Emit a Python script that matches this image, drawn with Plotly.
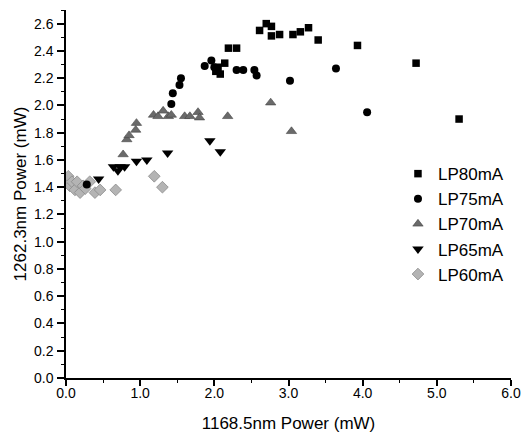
import plotly.graph_objects as go

# LP80mA (squares)
lp80_x = [2.02, 2.05, 2.08, 2.14, 2.19, 2.30, 2.61, 2.70, 2.77, 2.77, 2.88, 3.06, 3.16, 3.27, 3.40, 3.93, 4.72, 5.30]
lp80_y = [2.25, 2.28, 2.23, 2.31, 2.42, 2.42, 2.55, 2.60, 2.58, 2.51, 2.52, 2.52, 2.54, 2.57, 2.48, 2.44, 2.31, 1.90]
# LP75mA (circles)
lp75_x = [0.28, 1.42, 1.44, 1.53, 1.55, 1.87, 1.96, 2.00, 2.30, 2.39, 2.54, 2.57, 3.02, 3.64, 4.06]
lp75_y = [1.42, 2.01, 2.09, 2.15, 2.20, 2.29, 2.33, 2.28, 2.26, 2.26, 2.26, 2.22, 2.18, 2.27, 1.95]
# LP70mA (up triangles)
lp70_x = [0.77, 0.82, 0.85, 0.94, 0.95, 1.18, 1.24, 1.31, 1.38, 1.42, 1.60, 1.67, 1.78, 1.80, 2.18, 2.76, 3.04]
lp70_y = [1.64, 1.75, 1.78, 1.82, 1.87, 1.93, 1.92, 1.96, 1.92, 1.93, 1.92, 1.92, 1.95, 1.91, 1.92, 2.02, 1.81]
# LP65mA (down triangles)
lp65_x = [0.44, 0.64, 0.70, 0.73, 0.79, 0.95, 1.09, 1.37, 1.94, 2.08]
lp65_y = [1.46, 1.55, 1.52, 1.55, 1.55, 1.59, 1.60, 1.65, 1.74, 1.66]
# LP60mA (diamonds)
lp60_x = [0.03, 0.05, 0.08, 0.12, 0.15, 0.19, 0.23, 0.26, 0.32, 0.39, 0.46, 0.67, 1.19, 1.30]
lp60_y = [1.48, 1.41, 1.44, 1.38, 1.44, 1.36, 1.41, 1.39, 1.44, 1.36, 1.38, 1.38, 1.48, 1.40]

x_ticks = [0, 1, 2, 3, 4, 5, 6]
x_labels = ["0.0", "1.0", "2.0", "3.0", "4.0", "5.0", "6.0"]
y_ticks = [0, 0.2, 0.4, 0.6, 0.8, 1.0, 1.2, 1.4, 1.6, 1.8, 2.0, 2.2, 2.4, 2.6]
y_labels = ["0.0", "0.2", "0.4", "0.6", "0.8", "1.0", "1.2", "1.4", "1.6", "1.8", "2.0", "2.2", "2.4", "2.6"]

FONT = "Liberation Sans, Arial, sans-serif"

fig = go.Figure()
fig.add_trace(go.Scatter(x=lp60_x, y=lp60_y, mode="markers", name="LP60mA", legendrank=5,
                         marker=dict(symbol="diamond", size=9, color="#b4b4b4",
                                     line=dict(color="#8a8a8a", width=0.8))))
fig.add_trace(go.Scatter(x=lp70_x, y=lp70_y, mode="markers", name="LP70mA", legendrank=3,
                         marker=dict(symbol="triangle-up", size=9, color="#6a6a6a",
                                     line=dict(color="#444444", width=0.6))))
fig.add_trace(go.Scatter(x=lp65_x, y=lp65_y, mode="markers", name="LP65mA", legendrank=4,
                         marker=dict(symbol="triangle-down", size=10, color="black")))
fig.add_trace(go.Scatter(x=lp75_x, y=lp75_y, mode="markers", name="LP75mA", legendrank=2,
                         marker=dict(symbol="circle", size=8, color="black")))
fig.add_trace(go.Scatter(x=lp80_x, y=lp80_y, mode="markers", name="LP80mA", legendrank=1,
                         marker=dict(symbol="square", size=7.5, color="black")))

fig.update_layout(
    width=521, height=433,
    margin=dict(l=66, r=10, t=10, b=55),
    paper_bgcolor="white", plot_bgcolor="white",
    font=dict(family=FONT, color="black", size=14),
    showlegend=True,
    legend=dict(x=0.746, y=0.603, xanchor="left", yanchor="top",
                font=dict(size=17, family=FONT),
                bgcolor="rgba(0,0,0,0)", itemwidth=30, tracegroupgap=0),
    xaxis=dict(range=[0, 6], tickmode="array", tickvals=x_ticks, ticktext=x_labels,
               showline=True, linecolor="black", linewidth=1.5, showgrid=False, zeroline=False,
               ticks="outside", ticklen=6, tickwidth=1.5, tickcolor="black",
               minor=dict(dtick=0.5, ticks="outside", ticklen=3, tickwidth=1.2, tickcolor="black"),
               tickfont=dict(size=14), automargin=False, ticklabeloverflow="allow",
               ticklabelstandoff=-5,
               title=dict(text="1168.5nm Power (mW)", font=dict(size=17), standoff=24)),
    yaxis=dict(range=[0, 2.7], tickmode="array", tickvals=y_ticks, ticktext=y_labels,
               showline=True, linecolor="black", linewidth=1.5, showgrid=False, zeroline=False,
               ticks="outside", ticklen=7, tickwidth=1.5, tickcolor="black",
               minor=dict(dtick=0.1, ticks="outside", ticklen=3, tickwidth=1.2, tickcolor="black"),
               tickfont=dict(size=14), ticklabelstandoff=1, automargin=False,
               title=dict(text="1262.3nm Power (mW)", font=dict(size=17), standoff=3)),
)

fig.write_html("out.html", config={"displayModeBar": False},
               post_script="document.body.style.margin='0';")
